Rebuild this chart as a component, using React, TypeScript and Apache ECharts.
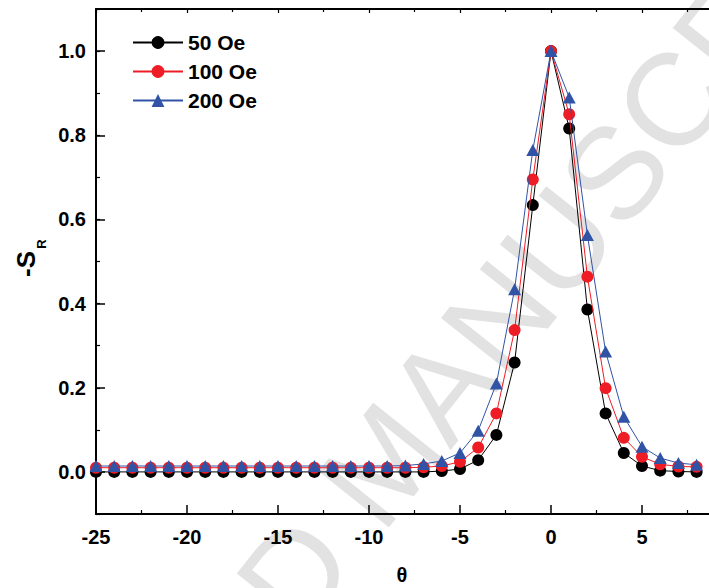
import React, { useEffect, useRef } from 'react';
import * as echarts from 'echarts';

const theta = [-25, -24, -23, -22, -21, -20, -19, -18, -17, -16, -15, -14, -13, -12, -11, -10, -9, -8, -7, -6, -5, -4, -3, -2, -1, 0, 1, 2, 3, 4, 5, 6, 7, 8];
const s50 = [0.0, 0.0, 0.0, 0.0, 0.0, 0.0, 0.0, 0.0, 0.0, 0.0, 0.0, 0.0, 0.0, 0.0, 0.0, 0.0, 0.0, 0.0, 0.0, 0.002, 0.007, 0.028, 0.088, 0.26, 0.634, 1.0, 0.816, 0.386, 0.139, 0.045, 0.014, 0.003, 0.001, 0.0];
const s100 = [0.01, 0.01, 0.01, 0.01, 0.01, 0.01, 0.01, 0.01, 0.01, 0.01, 0.01, 0.01, 0.01, 0.01, 0.01, 0.01, 0.01, 0.01, 0.011, 0.014, 0.024, 0.058, 0.139, 0.337, 0.695, 1.0, 0.85, 0.464, 0.199, 0.081, 0.036, 0.018, 0.013, 0.012];
const s200 = [0.014, 0.014, 0.014, 0.014, 0.014, 0.014, 0.014, 0.014, 0.014, 0.014, 0.014, 0.014, 0.014, 0.014, 0.014, 0.014, 0.014, 0.015, 0.019, 0.026, 0.045, 0.098, 0.21, 0.434, 0.765, 1.0, 0.89, 0.563, 0.286, 0.131, 0.06, 0.033, 0.021, 0.017];
const seriesNames = ['50 Oe', '100 Oe', '200 Oe'];
const yLabels = [0, 0.2, 0.4, 0.6, 0.8, 1.0];

const FONT = 'Liberation Sans, Arial, sans-serif';

export default function App() {
  const ref = useRef<HTMLDivElement>(null);
  useEffect(() => {
    document.body.style.margin = '0';
    const chart = echarts.init(ref.current!, null, { renderer: 'svg' });
    const colors = ['#000000', '#EE1C25', '#3153A5'];
    const symbols = ['circle', 'circle', 'triangle'];
    const sizes: any[] = [12, 12, [13, 12]];
    const values = [s50, s100, s200];
    chart.setOption({
      animation: false,
      backgroundColor: '#ffffff',
      grid: { left: 96, top: 9, width: 637, height: 505, outerBoundsMode: 'none', containLabel: false },
      legend: {
        data: seriesNames,
        orient: 'vertical',
        left: 127,
        top: 27,
        itemWidth: 50,
        itemHeight: 16,
        itemGap: 8,
        textStyle: { fontSize: 21, fontWeight: 'bold', fontFamily: FONT, color: '#000', lineHeight: 21 },
      },
      graphic: [
        {
          type: 'text',
          z: -10,
          x: 383,
          y: 462,
          rotation: 0.897,
          style: {
            text: 'ACCEPTED MANUSCRIPT',
            font: 'normal 131px ' + FONT,
            fill: '#e2e2e2',
            textAlign: 'center',
            textVerticalAlign: 'middle',
          },
        },
        {
          type: 'text',
          x: 26,
          y: 264,
          rotation: Math.PI / 2,
          style: { text: '-S', font: 'bold 26px ' + FONT, fill: '#000', textAlign: 'center', textVerticalAlign: 'middle' },
        },
        {
          type: 'text',
          x: 41,
          y: 244,
          rotation: Math.PI / 2,
          style: { text: 'R', font: 'bold 13px ' + FONT, fill: '#000', textAlign: 'center', textVerticalAlign: 'middle' },
        },
        {
          type: 'text',
          x: 402,
          y: 575,
          style: { text: 'θ', font: 'bold 20px ' + FONT, fill: '#000', textAlign: 'center', textVerticalAlign: 'middle' },
        },
      ],
      xAxis: [
        {
          type: 'value',
          position: 'bottom',
          min: -25,
          max: 10,
          interval: 5,
          axisLine: { show: true, onZero: false, lineStyle: { color: '#000', width: 2 } },
          axisTick: { show: true, inside: true, length: 9, lineStyle: { color: '#000', width: 1.5 } },
          minorTick: { show: true, splitNumber: 2, length: 4, lineStyle: { color: '#000', width: 1.2 } },
          axisLabel: {
            fontSize: 20, fontWeight: 'bold', fontFamily: FONT, color: '#000', margin: 13,
            formatter: (v: number) => (v > 8 ? '' : String(v)),
          },
          splitLine: { show: false },
        },
        {
          type: 'value',
          position: 'top',
          min: -25,
          max: 10,
          interval: 5,
          axisLine: { show: true, onZero: false, lineStyle: { color: '#000', width: 2 } },
          axisTick: { show: true, inside: true, length: 4, lineStyle: { color: '#000', width: 1.2 } },
          minorTick: { show: true, splitNumber: 2, length: 3, lineStyle: { color: '#000', width: 1.2 } },
          axisLabel: { show: false },
          splitLine: { show: false },
        },
      ],
      yAxis: [
        {
          type: 'value',
          position: 'left',
          min: -0.1,
          max: 1.1,
          splitNumber: 6,
          axisLine: { show: true, onZero: false, lineStyle: { color: '#000', width: 2 } },
          axisTick: { show: true, inside: true, length: 9, lineStyle: { color: '#000', width: 1.5 } },
          axisLabel: {
            fontSize: 20, fontWeight: 'bold', fontFamily: FONT, color: '#000', margin: 10,
            formatter: (v: number) => {
              const hit = yLabels.find((t) => Math.abs(t - v) < 1e-6);
              return hit === undefined ? '' : hit.toFixed(1);
            },
          },
          splitLine: { show: false },
        },
        {
          type: 'value',
          position: 'left',
          min: -0.1,
          max: 1.1,
          interval: 0.1,
          axisLine: { show: false, onZero: false },
          axisTick: { show: true, inside: true, length: 4, lineStyle: { color: '#000', width: 1.2 } },
          axisLabel: { show: false },
          splitLine: { show: false },
        },
      ],
      series: seriesNames.map((name, k) => ({
        name,
        type: 'line',
        xAxisIndex: 0,
        yAxisIndex: 0,
        data: theta.map((t, i) => [t, values[k][i]]),
        symbol: symbols[k],
        symbolSize: sizes[k],
        showSymbol: true,
        color: colors[k],
        lineStyle: { color: colors[k], width: 1 },
        itemStyle: { color: colors[k] },
        z: 2 + k,
      })),
    });
    return () => chart.dispose();
  }, []);
  return <div ref={ref} style={{ width: 709, height: 588 }} />;
}
